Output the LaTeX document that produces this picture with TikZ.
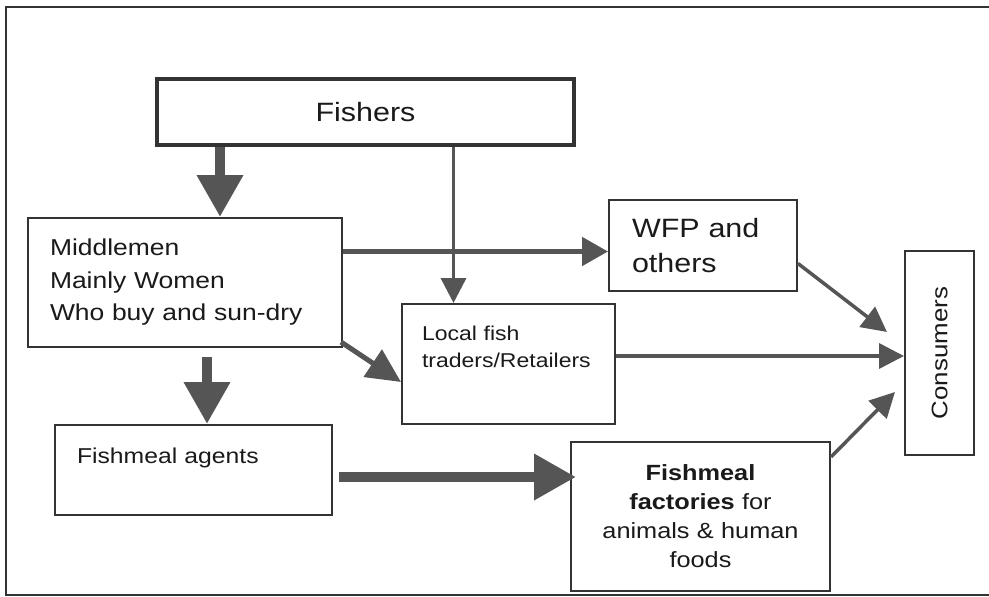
\documentclass[tikz,border=0pt]{standalone}
\usepackage{graphicx}
\usepackage{fontspec}
\setmainfont{Liberation Sans}[FakeStretch=1.15]
\usepackage{tikz}
\usetikzlibrary{arrows.meta, positioning}
\definecolor{boxline}{HTML}{333333}
\definecolor{flowgray}{HTML}{555555}
\definecolor{inktext}{HTML}{1A1A1A}
\tikzset{
  actor/.style={
    rectangle, draw=boxline, line width=2pt,
    fill=white, text=inktext, inner sep=0pt,
  },
  topactor/.style={actor, line width=4pt},
  bigflow/.style={-{Triangle[length=42pt,width=44pt]}, line width=10pt, color=flowgray},
  midflow/.style={-{Triangle[length=26pt,width=28pt]}, line width=5pt, color=flowgray},
  thinflow/.style={-{Triangle[length=25pt,width=25pt]}, line width=3.5pt, color=flowgray},
}

\begin{document}
\begin{tikzpicture}[x=1pt, y=-1pt]

  \useasboundingbox (0,0) rectangle (989,597);
  \draw[boxline, line width=2pt] (989,7) -- (6,7) -- (6,595) -- (989,595);

  \node[topactor, minimum width=417pt, minimum height=66pt,
        font=\fontsize{26.5}{35}\selectfont] (fishers) at (365.5,112) {Fishers};
  \node[actor, text width=270pt, inner xsep=22pt, minimum height=129pt, align=left,
        font=\fontsize{23}{32.5}\selectfont] (middle) at (185,282.5)
        {Middlemen\\Mainly Women\\Who buy and sun-dry};
  \node[actor, text width=142pt, inner xsep=23pt, minimum height=91pt, align=left,
        font=\fontsize{26.5}{35}\selectfont] (wfp) at (703,245.5) {WFP and\\others};
  \node[actor, text width=173pt, inner xsep=20pt, text height=36pt, text depth=84pt,
        align=left, font=\fontsize{20}{27}\selectfont] (local) at (508.5,364)
        {Local fish\\traders/Retailers};
  \node[actor, text width=233pt, inner xsep=22pt, text height=38pt, text depth=52pt,
        align=left, font=\fontsize{21.5}{28}\selectfont] (agents) at (193.5,470)
        {Fishmeal agents};
  \node[actor, text width=230pt, inner xsep=14.5pt, minimum height=149pt, align=center,
        font=\fontsize{22}{29}\selectfont] (factories) at (700.5,516.5)
        {\textbf{Fishmeal}\\\textbf{factories} for\\animals \& human\\foods};
  \node[actor, minimum width=69pt, minimum height=204pt,
        font=\fontsize{22.5}{28}\selectfont] (consumers) at (939.5,353)
        {\rotatebox{90}{Consumers}};

  \draw[bigflow] ([xshift=65pt]fishers.south west) -- ([xshift=65pt]fishers.south west |- middle.north);
  \draw[thinflow] ([xshift=-55pt]local.north |- fishers.south) -- ([xshift=-55pt]local.north);
  \draw[midflow] ([yshift=31pt]middle.east) -- ([yshift=31pt]middle.east -| wfp.west);
  \draw[midflow, -{Triangle[length=34pt,width=32pt]}] ([xshift=-2pt,yshift=6pt]middle.south east) -- ([yshift=-18pt]local.west);
  \draw[bigflow] ([xshift=22pt,yshift=-9pt]middle.south) -- ([xshift=13.5pt]agents.north);
  \draw[bigflow] ([xshift=6pt,yshift=-7pt]agents.east) -- ([xshift=6pt,yshift=-7pt]agents.east -| factories.west);
  \draw[thinflow] ([yshift=8pt]local.east) -- ([yshift=8pt]local.east -| consumers.west);
  \draw[thinflow] ([yshift=-18pt]wfp.east) -- ([xshift=-17pt,yshift=21pt]consumers.west);
  \draw[thinflow] ([yshift=-16pt]factories.north east) -- ([xshift=-9pt,yshift=-39pt]consumers.west);

\end{tikzpicture}
\end{document}
